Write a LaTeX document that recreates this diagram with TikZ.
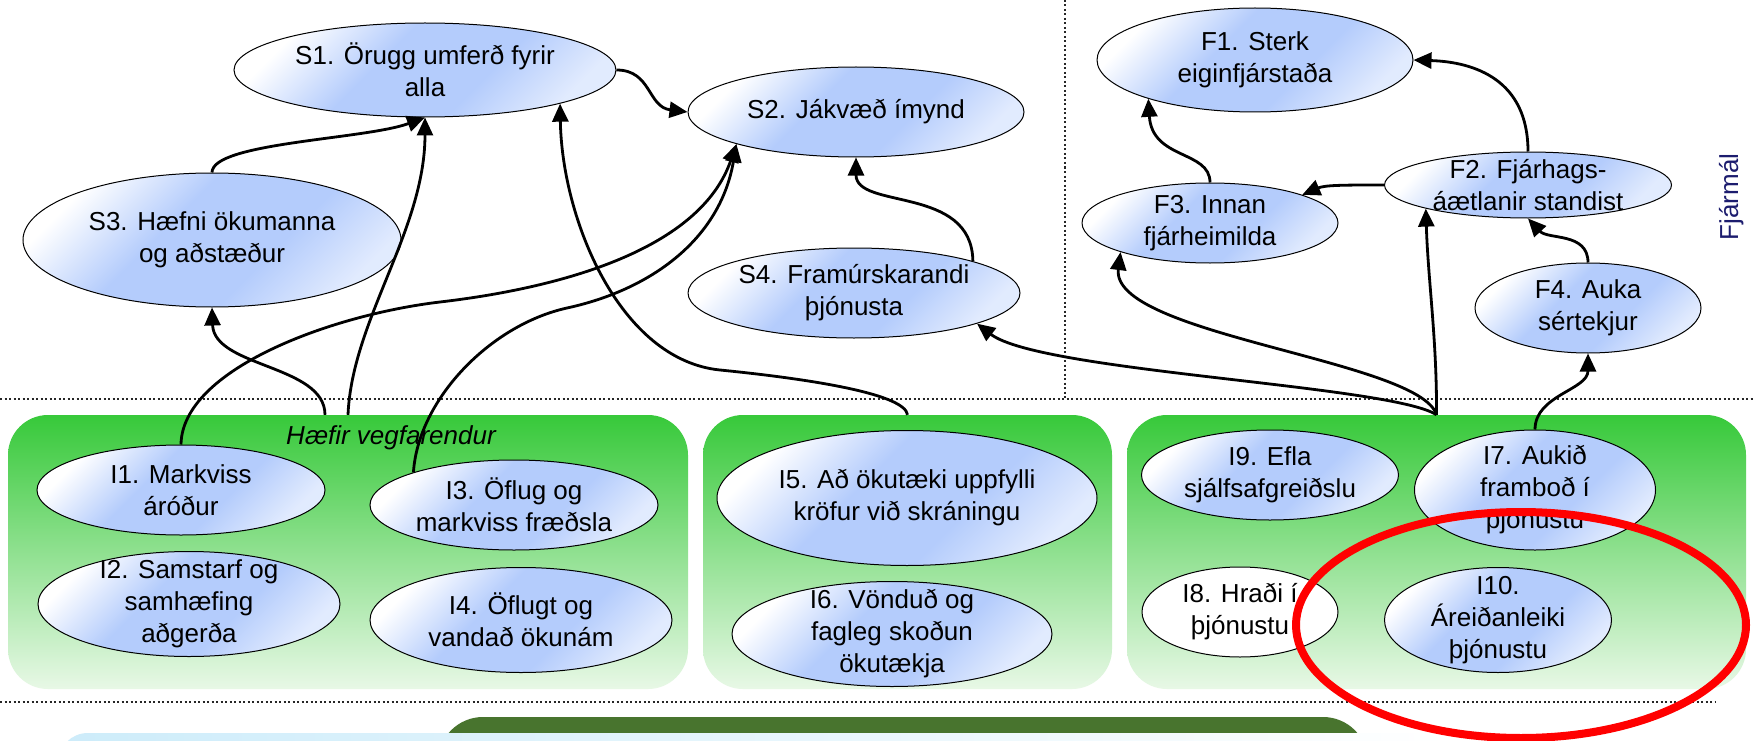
\documentclass[tikz,border=0pt]{standalone}
\usepackage{fontspec}
\setmainfont{Liberation Sans}
\usepackage{tikz}
\usetikzlibrary{arrows.meta, shapes.geometric}
\definecolor{ovalBlue}{RGB}{180,204,252}
\colorlet{ovalLight}{ovalBlue!40!white}
\definecolor{grnTop}{RGB}{55,201,58}
\definecolor{grnBottom}{RGB}{232,248,230}
\definecolor{deepGreen}{RGB}{72,116,46}
\definecolor{skyBlue}{RGB}{205,236,250}
\definecolor{navyText}{RGB}{28,28,110}
\pgfdeclareverticalshading{ovalShading}{100bp}{color(0bp)=(ovalLight); color(25bp)=(ovalLight); color(40bp)=(ovalBlue); color(58bp)=(ovalBlue); color(75bp)=(white); color(100bp)=(white)}
\tikzstyle{goalStyle} = [ellipse, draw=black, line width=1pt, shade, shading=ovalShading, shading angle=45, inner sep=0pt]
\tikzstyle{plainGoalStyle} = [ellipse, draw=black, line width=1pt, fill=white, inner sep=0pt]
\tikzstyle{goalText} = [align=center, font=\fontsize{26}{32}\selectfont, inner sep=0pt]
\tikzstyle{groupBox} = [rectangle, rounded corners=40pt, top color=grnTop, bottom color=grnBottom, inner sep=0pt]
\tikzstyle{groupLabel} = [font=\itshape\fontsize{26}{32}\selectfont, inner sep=0pt]
\tikzstyle{sideLabel} = [font=\fontsize{26}{32}\selectfont, color=navyText, inner sep=0pt]
\tikzstyle{linkArrow} = [-{Triangle[length=18pt, width=16pt]}, line width=2.8pt]
\tikzstyle{sepLine} = [line width=2pt, dash pattern=on 2pt off 2.5pt, color=black!85]
\tikzstyle{redRing} = [line width=8pt, color=red]
\newcommand{\goalOval}[6]{\node [goalStyle, minimum width=#4pt, minimum height=#5pt] (#1) at (#2,#3) {}; \node [goalText] (#1Text) at (#1.center) {#6};}
\newcommand{\plainOval}[6]{\node [plainGoalStyle, minimum width=#4pt, minimum height=#5pt] (#1) at (#2,#3) {}; \node [goalText] (#1Text) at (#1.center) {#6};}
\newcommand{\groupArea}[5]{\node [groupBox, minimum width=#4pt, minimum height=#5pt] (#1) at (#2,#3) {};}

\begin{document}
\begin{tikzpicture}[x=1pt, y=-1pt]
  \fill [white] (0,0) rectangle (1753,741);
  \useasboundingbox (0,0) rectangle (1753,741);
  \clip (0,0) rectangle (1753,741);

  % separators
  \draw [sepLine] (0,399) -- (1753,399);
  \draw [sepLine] (1065,0) -- (1065,399);
  \draw [sepLine] (0,702) -- (1716,702);

  % bands at the bottom
  \fill [deepGreen, rounded corners=45pt] (438,800) rectangle (1368,717);
  \shade [left color=skyBlue, right color=white, rounded corners=30pt] (58,800) rectangle (1450,733);

  % group areas
  \groupArea{grpA}{348}{552}{680}{274}
  \groupArea{grpB}{907.5}{552}{409}{274}
  \groupArea{grpC}{1436.5}{552}{619}{274}
  \node [groupLabel, anchor=base] (grpALabel) at (391,444) {Hæfir vegfarendur};
  \node [sideLabel, rotate=90, anchor=base] (finLabel) at (1738,197) {Fjármál};

  % goals
  \goalOval{s1}{425}{70}{382}{94}{S1. Örugg umferð fyrir\\alla}
  \goalOval{s2}{856}{112}{336}{90}{S2. Jákvæð ímynd}
  \goalOval{s3}{212}{240}{378}{134}{S3. Hæfni ökumanna\\og aðstæður}
  \goalOval{s4}{854}{293}{332}{90}{S4. Framúrskarandi\\þjónusta}
  \goalOval{f1}{1255}{60}{316}{104}{F1. Sterk\\eiginfjárstaða}
  \goalOval{f2}{1528}{185}{287}{66}{F2. Fjárhags-\\áætlanir standist}
  \goalOval{f3}{1210}{223}{256}{80}{F3. Innan\\fjárheimilda}
  \goalOval{f4}{1588}{308}{226}{90}{F4. Auka\\sértekjur}

  \goalOval{i1}{181}{490}{288}{90}{I1. Markviss\\áróður}
  \goalOval{i2}{189}{604}{302}{105}{I2. Samstarf og\\samhæfing\\aðgerða}
  \goalOval{i3}{514}{505}{288}{90}{I3. Öflug og\\markviss fræðsla}
  \goalOval{i4}{521}{620}{302}{105}{I4. Öflugt og\\vandað ökunám}
  \goalOval{i5}{907}{498}{380}{135}{I5. Að ökutæki uppfylli\\kröfur við skráningu}
  \goalOval{i6}{892}{634}{320}{105}{I6. Vönduð og\\fagleg skoðun\\ökutækja}
  \goalOval{i7}{1535}{490}{241}{120}{I7. Aukið\\framboð í\\þjónustu}
  \plainOval{i8}{1240}{612}{196}{90}{I8. Hraði í\\þjónustu}
  \goalOval{i9}{1270}{475}{257}{90}{I9. Efla\\sjálfsafgreiðslu}
  \goalOval{i10}{1498}{620}{227}{105}{I10.\\Áreiðanleiki\\þjónustu}

  % connectors
  \draw [linkArrow] (s1.east) .. controls +(35,0) and +(-40,-5) .. (s2.west);
  \draw [linkArrow] (s3.north) .. controls +(0,-30) and +(-60,22) .. (s1.south);
  \draw [linkArrow] (grpA.north) .. controls (352,320) and (425,230) .. (s1.south);
  \draw [linkArrow] ([xshift=-23pt]grpA.north) .. controls +(0,-50) and +(2,60) .. (s3.south);
  \draw [linkArrow] (i1.north) .. controls (182,370) and (330,315) .. (440,302)
    .. controls (560,288) and (700,250) .. (s2.195);
  \draw [linkArrow] (i3.162) .. controls (418,400) and (490,325) .. (567,308)
    .. controls (650,290) and (720,240) .. (s2.195);
  \draw [linkArrow] (grpB.north) .. controls (905,395) and (820,380) .. (720,370)
    .. controls (620,360) and (562,220) .. (s1.346);
  \draw [linkArrow] (s4.15) .. controls (972,185) and (856,210) .. (s2.south);
  \draw [linkArrow] (grpC.north) .. controls (1390,385) and (1040,372) .. (s4.346);
  \draw [linkArrow] (grpC.north) .. controls (1420,360) and (1110,335) .. (f3.198);
  \draw [linkArrow] (grpC.north) .. controls (1437,340) and (1428,280) .. (f2.193);
  \draw [linkArrow] (i7.north) .. controls (1535,395) and (1588,390) .. (f4.south);
  \draw [linkArrow] (f4.north) .. controls (1588,232) and (1548,240) .. (f2.south);
  \draw [linkArrow] (f2.north) .. controls (1528,80) and (1475,62) .. (f1.east);
  \draw [linkArrow] (f2.west) .. controls (1345,185) and (1325,185) .. (f3.17);
  \draw [linkArrow] (f3.north) .. controls (1210,150) and (1152,160) .. (f1.200);

  % marked area
  \draw [redRing] (1521,625) ellipse [x radius=225, y radius=113];
\end{tikzpicture}
\end{document}
